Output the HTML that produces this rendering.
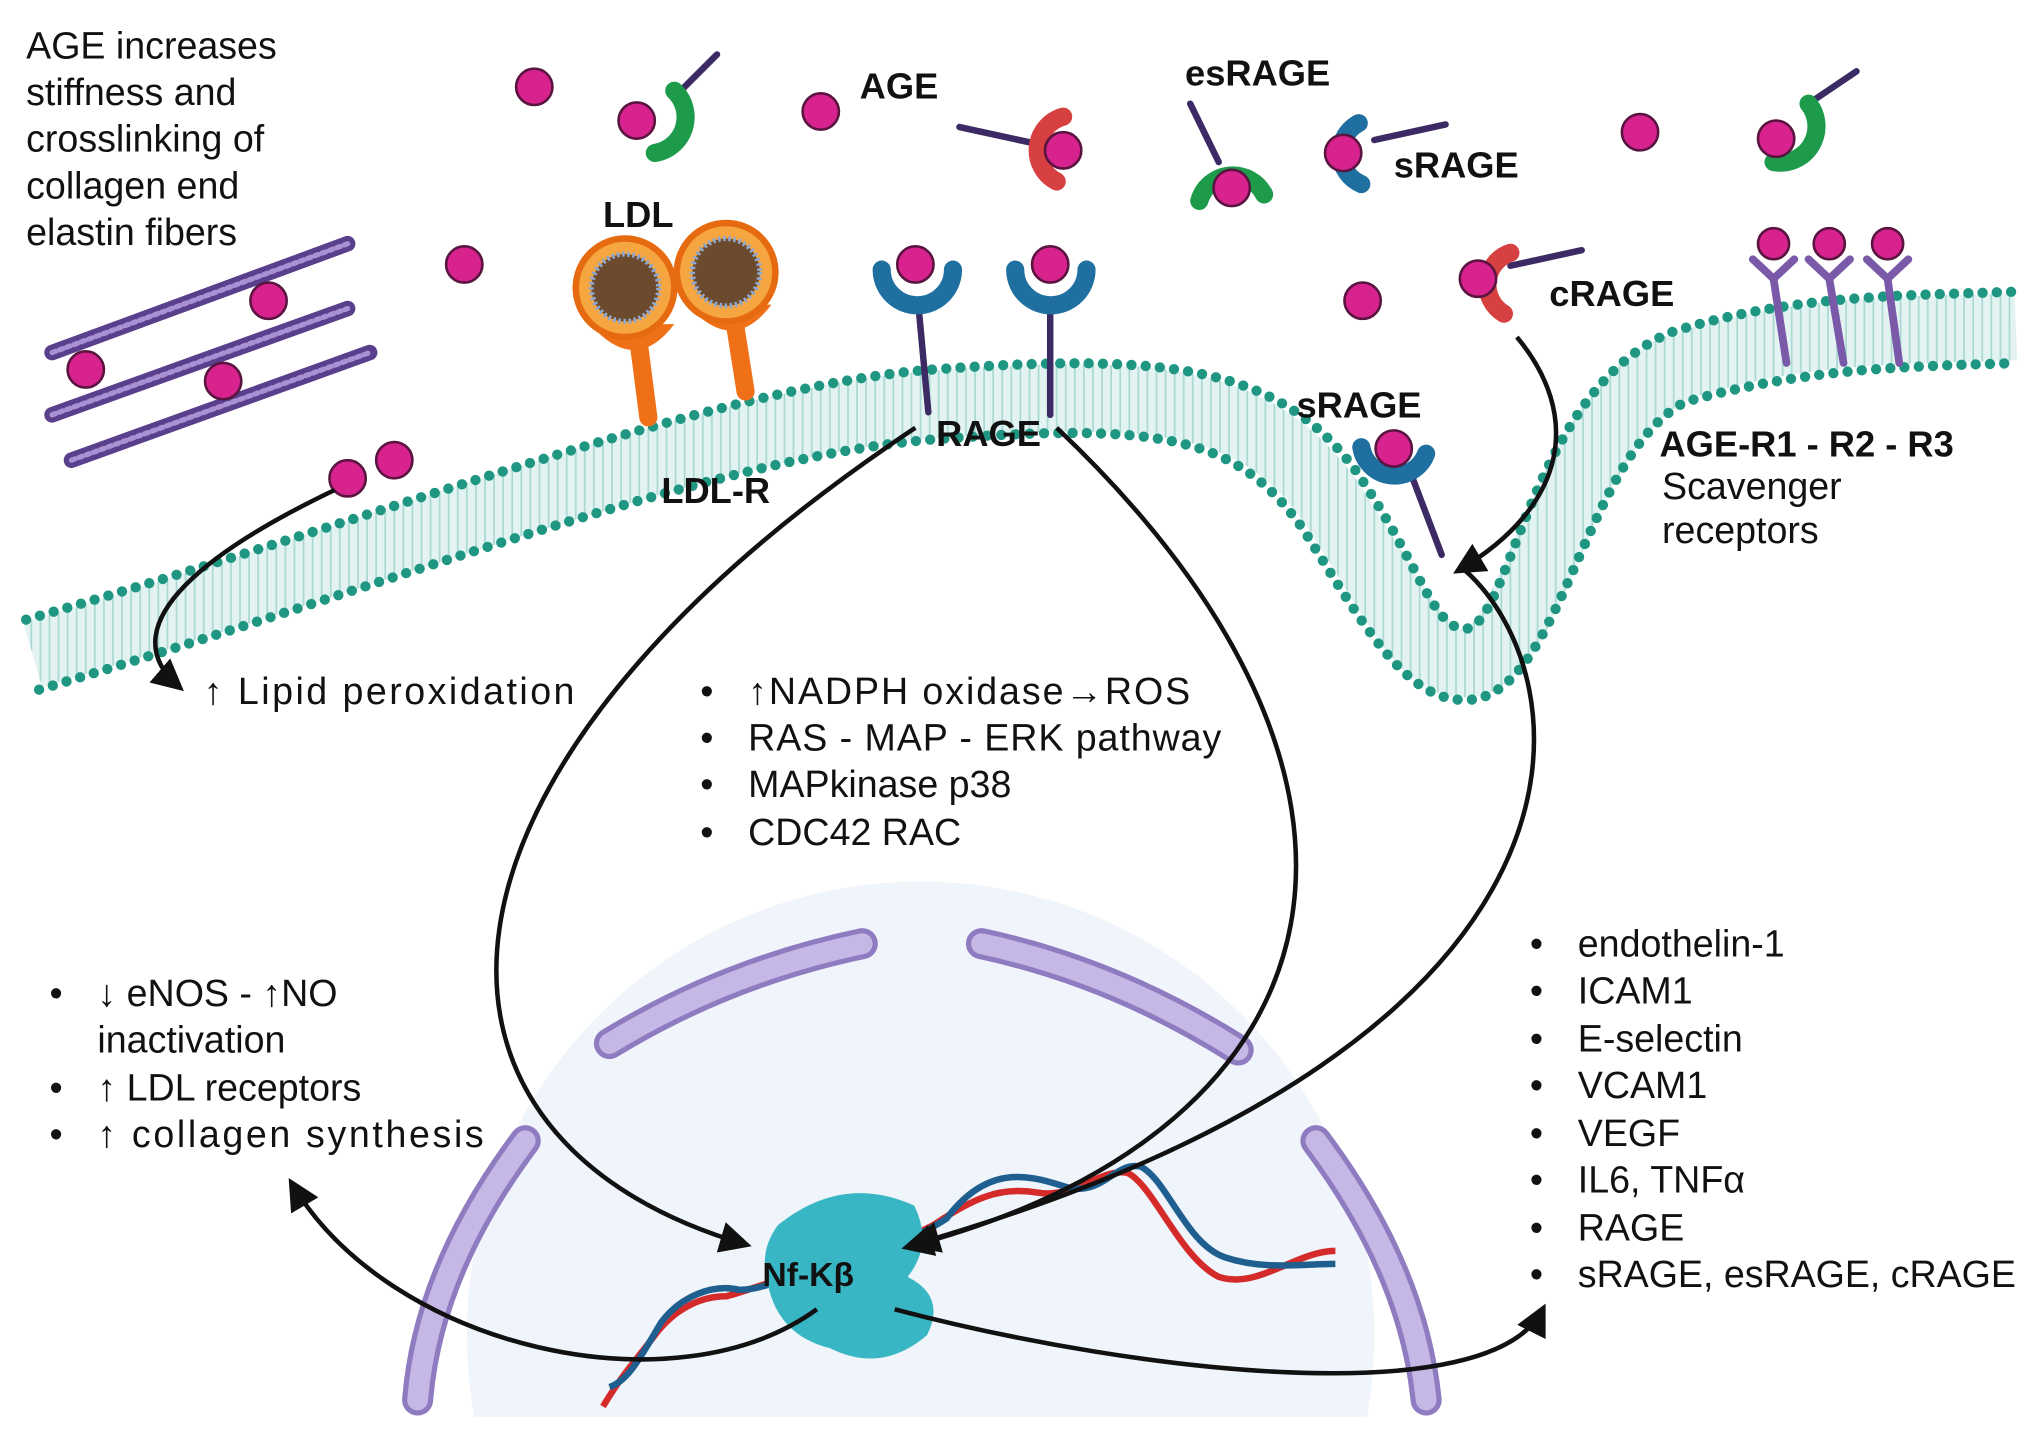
<!DOCTYPE html>
<html><head><meta charset="utf-8"><style>
html,body{margin:0;padding:0;background:#fff;width:2033px;height:1435px;overflow:hidden}
svg{display:block}
text{font-family:"Liberation Sans",sans-serif;fill:#111}
.t{font-size:29px}
.b{font-size:28px;font-weight:bold}
</style></head><body>
<svg width="2033" height="1435" viewBox="0 0 1568 1107" xmlns="http://www.w3.org/2000/svg">
<defs>
<marker id="ar" viewBox="0 0 10 10" refX="8" refY="5" markerWidth="7" markerHeight="7" orient="auto-start-reverse"><path d="M0,0 L10,5 L0,10 z" fill="#111"/></marker>
<pattern id="lip" width="7" height="10" patternUnits="userSpaceOnUse"><rect width="7" height="10" fill="#e3f3f1"/><line x1="3" y1="0" x2="3" y2="10" stroke="#a9d8d2" stroke-width="1.3"/></pattern>
</defs>
<circle cx="710" cy="1030" r="350" fill="#f0f4fb"/>
<rect x="0" y="1093" width="1568" height="20" fill="#fff"/>
<g fill="none" stroke-linecap="round">
<g stroke="#8f7cc0" stroke-width="24">
<path d="M470,805 Q560,750 665,728"/><path d="M757,728 Q860,750 955,810"/>
<path d="M405,880 Q330,980 322,1080"/><path d="M1015,880 Q1090,980 1100,1080"/>
</g>
<g stroke="#c5b8e6" stroke-width="16">
<path d="M470,805 Q560,750 665,728"/><path d="M757,728 Q860,750 955,810"/>
<path d="M405,880 Q330,980 322,1080"/><path d="M1015,880 Q1090,980 1100,1080"/>
</g>
</g>
<path d="M25,505 C300,425 550,325 720,312 C900,298 970,310 1025,385 C1075,460 1095,512 1130,512 C1185,512 1200,325 1295,283 C1390,252 1480,255 1555,252" fill="none" stroke="url(#lip)" stroke-width="52"/>
<g fill="none" stroke="#1f9682" stroke-width="8" stroke-linecap="round" stroke-dasharray="0 11">
<path d="M20,478 C300,398 550,298 720,285 C900,272 985,282 1045,362 C1095,435 1105,485 1130,485 C1165,485 1180,300 1290,256 C1385,226 1480,228 1555,225"/>
<path d="M30,532 C300,452 550,352 720,339 C900,325 955,338 1005,408 C1055,488 1085,540 1130,540 C1205,540 1220,352 1300,310 C1400,282 1480,283 1555,280"/>
</g>
<g stroke-linecap="round">
<line x1="40" y1="272" x2="268" y2="188" stroke="#5a3f8c" stroke-width="12"/>
<line x1="40" y1="320" x2="268" y2="238" stroke="#5a3f8c" stroke-width="12"/>
<line x1="55" y1="355" x2="285" y2="272" stroke="#5a3f8c" stroke-width="12"/>
<g stroke="#a991d4" stroke-width="4" stroke-dasharray="3 3">
<line x1="40" y1="272" x2="268" y2="188"/><line x1="40" y1="320" x2="268" y2="238"/><line x1="55" y1="355" x2="285" y2="272"/>
</g>
</g>
<g fill="#d8238f" stroke="#5a1440" stroke-width="2">
<circle cx="207" cy="232" r="14"/><circle cx="66" cy="285" r="14"/><circle cx="172" cy="294" r="14"/>
<circle cx="268" cy="369" r="14"/><circle cx="304" cy="355" r="14"/>
<circle cx="412" cy="67" r="14"/><circle cx="633" cy="86" r="14"/><circle cx="358" cy="204" r="14"/>
<circle cx="1265" cy="102" r="14"/><circle cx="1051" cy="232" r="14"/>
</g>
<g>
<path d="M492,260 L500,322" stroke="#f07018" stroke-width="14" stroke-linecap="round"/>
<path d="M566,245 L575,302" stroke="#f07018" stroke-width="14" stroke-linecap="round"/>
<path d="M455,250 Q490,290 520,250" fill="#f07018"/>
<path d="M530,235 Q565,275 595,235" fill="#f07018"/>
<circle cx="482" cy="222" r="38" fill="#f5a640" stroke="#e66a10" stroke-width="5"/>
<circle cx="482" cy="222" r="26" fill="#6b4a2e" stroke="#8fa8d0" stroke-width="4" stroke-dasharray="2 2"/>
<circle cx="560" cy="210" r="38" fill="#f5a640" stroke="#e66a10" stroke-width="5"/>
<circle cx="560" cy="210" r="26" fill="#6b4a2e" stroke="#8fa8d0" stroke-width="4" stroke-dasharray="2 2"/>
</g>
<g fill="none" stroke-linecap="round">
<line x1="708" y1="232" x2="716" y2="318" stroke="#3b2a63" stroke-width="5"/>
<line x1="810" y1="232" x2="810" y2="320" stroke="#3b2a63" stroke-width="5"/>
<path d="M680,208 A26,26 0 0 0 735,208" stroke="#1f6fa0" stroke-width="14"/>
<path d="M783,208 A26,26 0 0 0 838,208" stroke="#1f6fa0" stroke-width="14"/>
<line x1="520" y1="75" x2="553" y2="42" stroke="#3b2a63" stroke-width="5"/>
<path d="M520,70 A28,28 0 0 1 505,118" stroke="#1e9b4a" stroke-width="14"/>
<line x1="1395" y1="80" x2="1432" y2="55" stroke="#3b2a63" stroke-width="5"/>
<path d="M1395,80 A28,28 0 0 1 1368,125" stroke="#1e9b4a" stroke-width="14"/>
<line x1="918" y1="80" x2="940" y2="125" stroke="#3b2a63" stroke-width="5"/>
<path d="M925,155 A27,27 0 0 1 975,150" stroke="#1e9b4a" stroke-width="14"/>
<line x1="740" y1="98" x2="795" y2="110" stroke="#3b2a63" stroke-width="5"/>
<path d="M820,90 A27,27 0 0 0 815,140" stroke="#d64040" stroke-width="14"/>
<line x1="1165" y1="205" x2="1220" y2="193" stroke="#3b2a63" stroke-width="5"/>
<path d="M1165,195 A26,26 0 0 0 1160,242" stroke="#d64040" stroke-width="14"/>
<line x1="1060" y1="108" x2="1115" y2="96" stroke="#3b2a63" stroke-width="5"/>
<path d="M1048,95 A26,26 0 0 0 1050,142" stroke="#1f6fa0" stroke-width="14"/>
<line x1="1090" y1="370" x2="1112" y2="428" stroke="#3b2a63" stroke-width="5"/>
<path d="M1050,345 A26,26 0 0 0 1100,350" stroke="#1f6fa0" stroke-width="14"/>
<g stroke="#7a5aa8" stroke-width="6">
<path d="M1352,200 L1368,215 L1384,200"/><line x1="1368" y1="215" x2="1378" y2="280"/>
<path d="M1395,200 L1411,215 L1427,200"/><line x1="1411" y1="215" x2="1422" y2="280"/>
<path d="M1440,200 L1456,215 L1472,200"/><line x1="1456" y1="215" x2="1465" y2="280"/>
</g>
</g>
<g fill="#d8238f" stroke="#5a1440" stroke-width="2">
<circle cx="706" cy="204" r="14"/><circle cx="810" cy="204" r="14"/>
<circle cx="491" cy="93" r="14"/><circle cx="1370" cy="107" r="14"/><circle cx="950" cy="145" r="14"/>
<circle cx="820" cy="116" r="14"/><circle cx="1140" cy="215" r="14"/>
<circle cx="1036" cy="118" r="14"/><circle cx="1075" cy="346" r="14"/>
<circle cx="1368" cy="188" r="12"/><circle cx="1411" cy="188" r="12"/><circle cx="1456" cy="188" r="12"/>
</g>
<g fill="none" stroke-width="5">
<path d="M465,1085 C480,1060 490,1050 505,1030 C520,1010 540,1000 560,1000 C580,995 600,985 620,985 C660,975 690,960 720,945 C750,925 770,915 800,920 C830,925 850,900 870,905 C890,915 910,970 940,985 C970,995 1000,965 1030,965" stroke="#d42a2a"/>
<path d="M470,1070 C485,1065 495,1045 510,1020 C525,1000 550,990 570,995 C590,995 605,985 625,978 C660,970 700,960 730,940 C760,900 790,905 820,915 C850,925 860,895 880,900 C900,910 915,960 945,970 C975,980 1005,975 1030,975" stroke="#1f5f8f"/>
</g>
<path d="M600,945 Q650,905 705,930 Q720,960 700,985 Q730,1000 715,1030 Q680,1060 640,1040 Q600,1030 592,990 Q585,965 600,945 z" fill="#39b6c4"/>
<g fill="none" stroke="#111" stroke-width="3.5">
<path d="M258,378 C170,420 80,480 138,530" marker-end="url(#ar)"/>
<path d="M706,330 C300,600 300,880 575,960" marker-end="url(#ar)"/>
<path d="M815,330 C1100,600 1050,870 700,962" marker-end="url(#ar)"/>
<path d="M1170,260 C1220,320 1210,390 1125,440" marker-end="url(#ar)"/>
<path d="M1130,440 C1220,520 1260,800 705,960" marker-end="url(#ar)"/>
<path d="M630,1010 C520,1090 300,1040 225,913" marker-end="url(#ar)"/>
<path d="M690,1010 C880,1060 1150,1090 1190,1010" marker-end="url(#ar)"/>
</g>
<text class="t" x="20" y="45">AGE increases</text>
<text class="t" x="20" y="81">stiffness and</text>
<text class="t" x="20" y="117">crosslinking of</text>
<text class="t" x="20" y="153">collagen end</text>
<text class="t" x="20" y="189">elastin fibers</text>
<text class="b" x="663" y="76">AGE</text>
<text class="b" x="914" y="66">esRAGE</text>
<text class="b" x="1075" y="137">sRAGE</text>
<text class="b" x="465" y="175">LDL</text>
<text class="b" x="1195" y="236">cRAGE</text>
<text class="b" x="722" y="344">RAGE</text>
<text class="b" x="510" y="388">LDL-R</text>
<text class="b" x="1000" y="322">sRAGE</text>
<text class="b" x="1280" y="352">AGE-R1 - R2 - R3</text>
<text class="t" x="1282" y="385">Scavenger</text>
<text class="t" x="1282" y="419">receptors</text>
<text class="t" x="157" y="543" textLength="286">↑ Lipid peroxidation</text>
<text class="t" x="540" y="543">•</text><text class="t" x="577" y="543" textLength="341">↑NADPH oxidase→ROS</text>
<text class="t" x="540" y="579">•</text><text class="t" x="577" y="579" textLength="365">RAS - MAP - ERK pathway</text>
<text class="t" x="540" y="615">•</text><text class="t" x="577" y="615">MAPkinase p38</text>
<text class="t" x="540" y="652">•</text><text class="t" x="577" y="652">CDC42 RAC</text>
<text class="t" x="38" y="776">•</text><text class="t" x="75" y="776">↓ eNOS - ↑NO</text>
<text class="t" x="75" y="812">inactivation</text>
<text class="t" x="38" y="849">•</text><text class="t" x="75" y="849">↑ LDL receptors</text>
<text class="t" x="38" y="885">•</text><text class="t" x="75" y="885" textLength="298">↑ collagen synthesis</text>
<text class="t" x="1180" y="738">•</text><text class="t" x="1217" y="738">endothelin-1</text>
<text class="t" x="1180" y="774">•</text><text class="t" x="1217" y="774">ICAM1</text>
<text class="t" x="1180" y="811">•</text><text class="t" x="1217" y="811">E-selectin</text>
<text class="t" x="1180" y="847">•</text><text class="t" x="1217" y="847">VCAM1</text>
<text class="t" x="1180" y="884">•</text><text class="t" x="1217" y="884">VEGF</text>
<text class="t" x="1180" y="920">•</text><text class="t" x="1217" y="920">IL6, TNFα</text>
<text class="t" x="1180" y="957">•</text><text class="t" x="1217" y="957">RAGE</text>
<text class="t" x="1180" y="993">•</text><text class="t" x="1217" y="993" textLength="338">sRAGE, esRAGE, cRAGE</text>
<text class="b" x="588" y="992" style="font-size:26px">Nf-Kβ</text>
</svg>
</body></html>
